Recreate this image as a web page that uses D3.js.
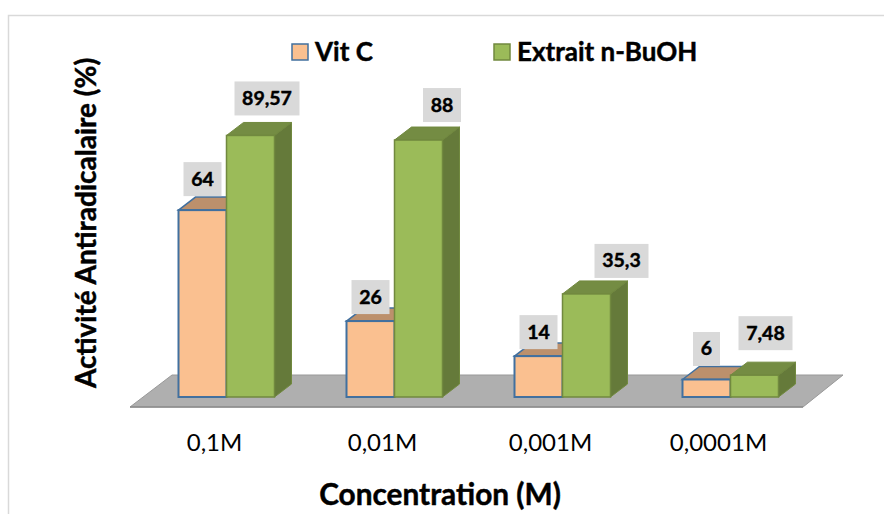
<!DOCTYPE html>
<html>
<head>
<meta charset="utf-8">
<script src="https://cdn.jsdelivr.net/npm/d3@7"></script>
<style>
html, body { margin: 0; padding: 0; background: #fff; }
svg { display: block; }
text { font-family: Lato, "Open Sans", sans-serif; fill: #000; }
.heavy { stroke: #000; stroke-width: 0.45px; }
</style>
</head>
<body>
<div id="chart"></div>
<script>

var categories = ["0,1M", "0,01M", "0,001M", "0,0001M"];
var seriesNames = ["Vit C", "Extrait n-BuOH"];
var vitC = [64, 26, 14, 6];
var extrait = [89.57, 88, 35.3, 7.48];
var vitCLabels = ["64", "26", "14", "6"];
var extraitLabels = ["89,57", "88", "35,3", "7,48"];

//label boxes were dragged by hand in the original, so each has its own shift
var labelShiftX = [[0, 0, 0, 0], [16.5, 23.5, 35, 11]];
var labelGap = [[14, 7, 7, 13.5], [20, 18, 16, 25]];

var colors = [
    {front: "#fac090", top: "#bc906c", line: "#41709f"},
    {front: "#9bbb59", top: "#748c43", side: "#657a3a", line: "#71893f"}
];

var width = 885, height = 514;
var depth = {x: 17, y: 13};

var svg = d3.select("#chart").append("svg")
    .attr("width", width)
    .attr("height", height);

//Chart frame
svg.append("path")
    .attr("d", "M8.5,514V15.5H884")
    .attr("fill", "none")
    .attr("stroke", "#d9d9d9")
    .attr("stroke-width", 1.5);

//Scales
var x0 = d3.scaleBand()
    .domain(categories)
    .range([142.5, 814.5])
    .paddingInner(72 / 168)
    .paddingOuter(36 / 168);

var x1 = d3.scaleBand()
    .domain([0, 1])
    .range([0, x0.bandwidth()]);

var y = d3.scaleLinear()
    .domain([0, 100])
    .range([397, 105]);

//Floor
svg.append("path")
    .attr("d", "M130,407H803L843,375H172Z")
    .attr("fill", "#afafaf")
    .attr("stroke", "#999")
    .attr("stroke-width", 1);
svg.append("path")
    .attr("d", "M130,407H803")
    .attr("stroke", "#8c8c8c")
    .attr("stroke-width", 1.5);

//Bars: back to front inside each group, green over orange top
var data = [];
categories.forEach(function(c, i){
    data.push({cat: c, s: 0, i: i, value: vitC[i], label: vitCLabels[i]});
    data.push({cat: c, s: 1, i: i, value: extrait[i], label: extraitLabels[i]});
});

var bars = svg.append("g").selectAll("g")
    .data(data)
    .enter()
    .append("g");

bars.each(function(d){
    var g = d3.select(this);
    var c = colors[d.s];
    var x = x0(d.cat) + x1(d.s);
    var w = x1.bandwidth();
    var t = y(d.value), b = y(0);

    //top
    g.append("path")
        .attr("d", "M" + x + "," + t + "l" + depth.x + "," + (-depth.y) + "h" + w + "l" + (-depth.x) + "," + depth.y + "Z")
        .attr("fill", c.top)
        .attr("stroke", c.line)
        .attr("stroke-width", d.s ? 1 : 1.5);

    //side, only the green bars show one
    if (c.side){
        g.append("path")
            .attr("d", "M" + (x + w) + "," + t + "l" + depth.x + "," + (-depth.y) + "V" + (b - depth.y) + "l" + (-depth.x) + "," + depth.y + "Z")
            .attr("fill", c.side)
            .attr("stroke", c.line)
            .attr("stroke-width", 1);
    }

    //front
    g.append("rect")
        .attr("x", x)
        .attr("y", t)
        .attr("width", w)
        .attr("height", b - t)
        .attr("fill", c.front)
        .attr("stroke", c.line)
        .attr("stroke-width", d.s ? 1.5 : 2);
});

//Value labels
var labels = svg.append("g").selectAll("g")
    .data(data)
    .enter()
    .append("g")
    .attr("transform", function(d){
        var cx = x0(d.cat) + x1(d.s) + x1.bandwidth() / 2 + labelShiftX[d.s][d.i];
        var bottom = y(d.value) - labelGap[d.s][d.i];
        return "translate(" + cx + "," + bottom + ")";
    });

labels.append("rect")
    .attr("x", function(d){ return d.label.length > 2 ? (d.label.length > 4 ? -32.5 : -27) : (d.label.length > 1 ? -19 : -13.5); })
    .attr("y", -34)
    .attr("width", function(d){ return d.label.length > 2 ? (d.label.length > 4 ? 65 : 54) : (d.label.length > 1 ? 38 : 27); })
    .attr("height", 34)
    .attr("fill", "#d9d9d9");

labels.append("text")
    .attr("class", "heavy")
    .attr("y", -10.5)
    .attr("text-anchor", "middle")
    .attr("font-size", 19.5)
    .attr("font-weight", 700)
    .text(function(d){ return d.label; });

//Category axis, no line or ticks. Labels sit left of the bars because of the 3D view
var axis = svg.append("g")
    .attr("transform", "translate(-12,407)")
    .call(d3.axisBottom(x0).tickSize(0).tickPadding(27));
axis.select(".domain").remove();
axis.selectAll("text")
    .attr("font-size", 24)
    .style("font-family", "Lato, sans-serif");

//Axis titles
svg.append("text")
    .attr("class", "heavy")
    .attr("x", 440)
    .attr("y", 505)
    .attr("text-anchor", "middle")
    .attr("font-size", 29.8)
    .attr("font-weight", 700)
    .text("Concentration (M)");

svg.append("text")
    .attr("class", "heavy")
    .attr("transform", "translate(96,223) rotate(-90)")
    .attr("text-anchor", "middle")
    .attr("font-size", 28)
    .attr("font-weight", 700)
    .text("Activité Antiradicalaire (%)");

//Legend
var legendX = [292, 494];
var legend = svg.append("g").selectAll("g")
    .data(seriesNames)
    .enter()
    .append("g")
    .attr("transform", function(d, i){ return "translate(" + legendX[i] + ",44)"; });

legend.append("rect")
    .attr("width", 16)
    .attr("height", 16)
    .attr("fill", function(d, i){ return colors[i].front; })
    .attr("stroke", function(d, i){ return colors[i].line; })
    .attr("stroke-width", 1.5);

legend.append("text")
    .attr("class", "heavy")
    .attr("x", 23)
    .attr("y", 17)
    .attr("font-size", 26)
    .attr("font-weight", 700)
    .text(function(d){ return d; });

</script>
</body>
</html>
